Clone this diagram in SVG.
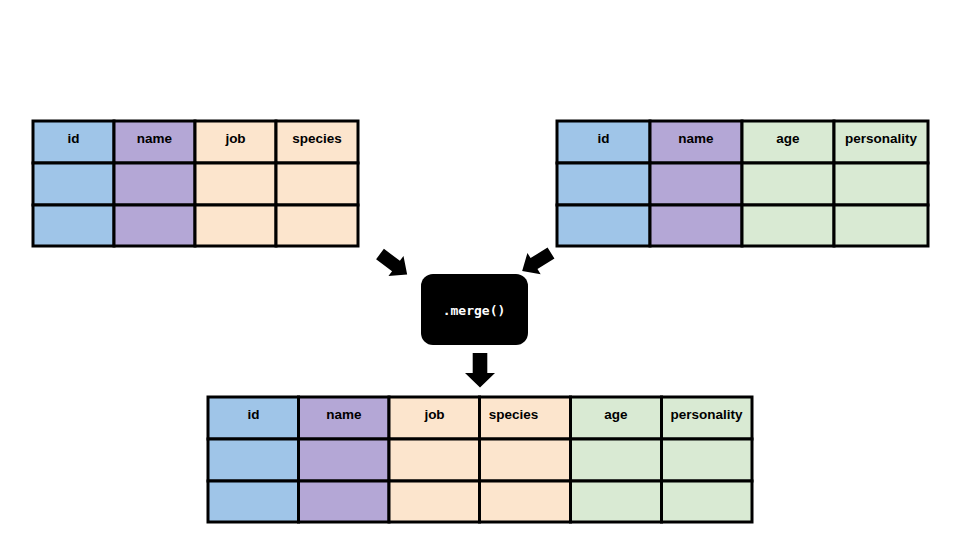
<svg xmlns="http://www.w3.org/2000/svg" width="960" height="540" viewBox="0 0 960 540">
<style>
.c{stroke:#000;stroke-width:3}
.b{fill:#9fc5e8}.p{fill:#b4a7d6}.o{fill:#fce5cd}.g{fill:#d9ead3}
.h{font-family:"Liberation Sans",Arial,sans-serif;font-weight:bold;font-size:13.5px;fill:#000;text-anchor:middle}
.m{font-family:"DejaVu Sans Mono","Liberation Mono",monospace;font-weight:bold;font-size:13px;fill:#fff;text-anchor:middle}
.a{fill:#000}
</style>
<defs>
<polygon id="arr" points="0,-6.5 20,-6.5 20,-12.5 34,0 20,12.5 20,6.5 0,6.5"/>
</defs>
<rect width="960" height="540" fill="#fff"/>

<g id="table-left">
<rect class="c b" x="33" y="121" width="81" height="42"/>
<rect class="c p" x="114" y="121" width="81" height="42"/>
<rect class="c o" x="195" y="121" width="81" height="42"/>
<rect class="c o" x="276" y="121" width="82" height="42"/>
<rect class="c b" x="33" y="163" width="81" height="42"/>
<rect class="c p" x="114" y="163" width="81" height="42"/>
<rect class="c o" x="195" y="163" width="81" height="42"/>
<rect class="c o" x="276" y="163" width="82" height="42"/>
<rect class="c b" x="33" y="205" width="81" height="41"/>
<rect class="c p" x="114" y="205" width="81" height="41"/>
<rect class="c o" x="195" y="205" width="81" height="41"/>
<rect class="c o" x="276" y="205" width="82" height="41"/>
<text class="h" x="73.5" y="143">id</text>
<text class="h" x="154.5" y="143">name</text>
<text class="h" x="235.5" y="143">job</text>
<text class="h" x="317" y="143">species</text>
</g>

<g id="table-right">
<rect class="c b" x="557" y="121" width="93" height="42"/>
<rect class="c p" x="650" y="121" width="92" height="42"/>
<rect class="c g" x="742" y="121" width="92" height="42"/>
<rect class="c g" x="834" y="121" width="94" height="42"/>
<rect class="c b" x="557" y="163" width="93" height="42"/>
<rect class="c p" x="650" y="163" width="92" height="42"/>
<rect class="c g" x="742" y="163" width="92" height="42"/>
<rect class="c g" x="834" y="163" width="94" height="42"/>
<rect class="c b" x="557" y="205" width="93" height="41"/>
<rect class="c p" x="650" y="205" width="92" height="41"/>
<rect class="c g" x="742" y="205" width="92" height="41"/>
<rect class="c g" x="834" y="205" width="94" height="41"/>
<text class="h" x="603.5" y="143">id</text>
<text class="h" x="696" y="143">name</text>
<text class="h" x="788" y="143">age</text>
<text class="h" x="881" y="143">personality</text>
</g>

<g id="merge">
<rect x="421" y="274" width="107" height="71" rx="12" ry="12" fill="#000"/>
<text class="m" x="474" y="314.5">.merge()</text>
</g>

<g id="table-result">
<rect class="c b" x="208" y="397" width="90.5" height="42"/>
<rect class="c p" x="298.5" y="397" width="90.5" height="42"/>
<rect class="c o" x="389" y="397" width="90.5" height="42"/>
<rect class="c o" x="479.5" y="397" width="91" height="42"/>
<rect class="c g" x="570.5" y="397" width="91" height="42"/>
<rect class="c g" x="661.5" y="397" width="90.5" height="42"/>
<rect class="c b" x="208" y="439" width="90.5" height="42"/>
<rect class="c p" x="298.5" y="439" width="90.5" height="42"/>
<rect class="c o" x="389" y="439" width="90.5" height="42"/>
<rect class="c o" x="479.5" y="439" width="91" height="42"/>
<rect class="c g" x="570.5" y="439" width="91" height="42"/>
<rect class="c g" x="661.5" y="439" width="90.5" height="42"/>
<rect class="c b" x="208" y="481" width="90.5" height="41"/>
<rect class="c p" x="298.5" y="481" width="90.5" height="41"/>
<rect class="c o" x="389" y="481" width="90.5" height="41"/>
<rect class="c o" x="479.5" y="481" width="91" height="41"/>
<rect class="c g" x="570.5" y="481" width="91" height="41"/>
<rect class="c g" x="661.5" y="481" width="90.5" height="41"/>
<text class="h" x="253.5" y="419">id</text>
<text class="h" x="344" y="419">name</text>
<text class="h" x="434.5" y="419">job</text>
<text class="h" x="513.5" y="419">species</text>
<text class="h" x="616" y="419">age</text>
<text class="h" x="706.5" y="419">personality</text>
</g>

<g id="connectors">
<use href="#arr" class="a" transform="translate(380,254) rotate(37)"/>
<use href="#arr" class="a" transform="translate(551,253) rotate(148)"/>
<polygon class="a" points="472.7,353 487.3,353 487.3,373 495,373 480,387.5 465,373 472.7,373"/>
</g>
</svg>
